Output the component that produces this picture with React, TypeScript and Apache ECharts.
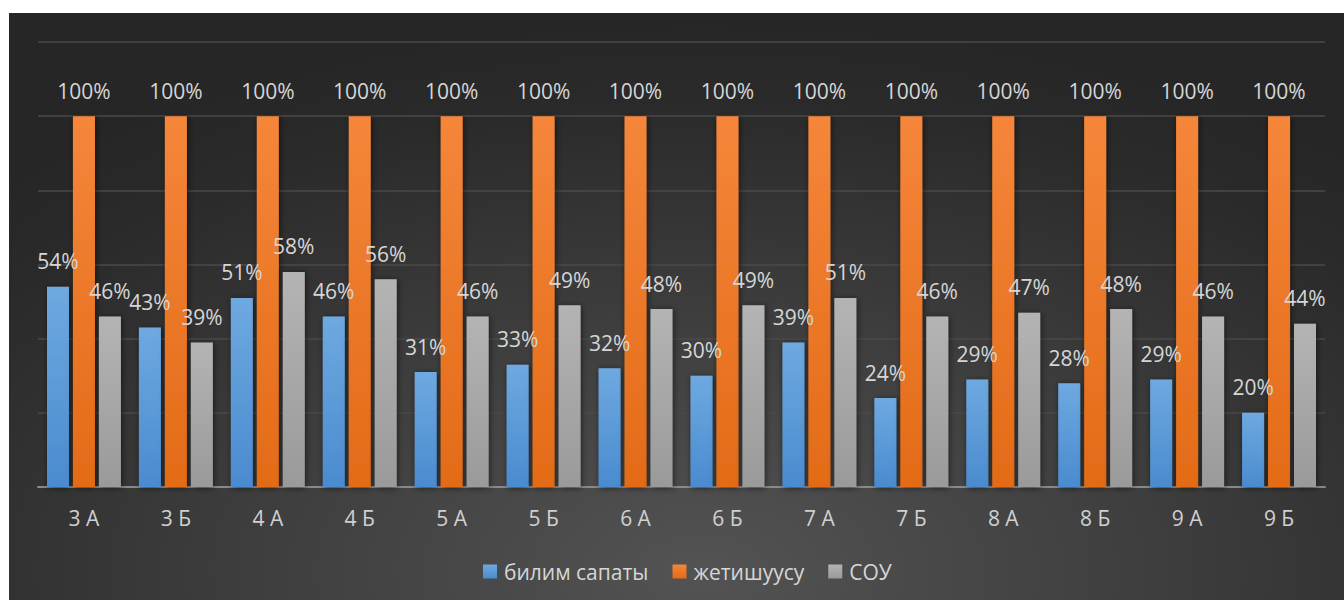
import React, { useEffect, useRef } from "react";
import * as echarts from "echarts";

const categories = ["3 А", "3 Б", "4 А", "4 Б", "5 А", "5 Б", "6 А", "6 Б", "7 А", "7 Б", "8 А", "8 Б", "9 А", "9 Б"];
const seriesNames = ["билим сапаты", "жетишуусу", "СОУ"];
const bilimSapaty = [54, 43, 51, 46, 31, 33, 32, 30, 39, 24, 29, 28, 29, 20];
const zhetishuusu = [100, 100, 100, 100, 100, 100, 100, 100, 100, 100, 100, 100, 100, 100];
const sou = [46, 39, 58, 56, 46, 49, 48, 49, 51, 46, 47, 48, 46, 44];

const FONT = "'Open Sans', 'Noto Sans', sans-serif";

function grad(top: string, bottom: string) {
  return new echarts.graphic.LinearGradient(0, 0, 0, 1, [
    { offset: 0, color: top },
    { offset: 1, color: bottom },
  ]);
}

export default function App() {
  const ref = useRef<HTMLDivElement>(null);
  useEffect(() => {
    if (!ref.current) return;
    const chart = echarts.init(ref.current, null, { renderer: "svg" });
    const label = {
      show: true,
      position: "top" as const,
      distance: 15,
      color: "#d6d6d6",
      fontSize: 21,
      fontFamily: FONT,
      formatter: (p: any) => p.value + "%",
    };
    const shadow = { shadowBlur: 6, shadowColor: "rgba(0,0,0,0.55)", shadowOffsetX: 1, shadowOffsetY: 1 };
    chart.setOption({
      animation: false,
      backgroundColor: "transparent",
      textStyle: { fontFamily: FONT },
      grid: { left: 29, right: 19, top: 29, bottom: 113, containLabel: false },
      legend: {
        bottom: 13,
        left: 469,
        itemWidth: 14,
        itemHeight: 14,
        itemGap: 24,
        icon: "rect",
        textStyle: { color: "#d6d6d6", fontSize: 21, fontFamily: FONT, padding: [0, 0, 0, 2] },
        data: seriesNames,
      },
      xAxis: {
        type: "category",
        data: categories,
        axisLine: { lineStyle: { color: "#8a8a8a", width: 2 } },
        axisTick: { show: false },
        axisLabel: { color: "#d0d0d0", fontSize: 21, margin: 20, fontFamily: FONT },
      },
      yAxis: {
        type: "value",
        min: 0,
        max: 120,
        interval: 20,
        axisLabel: { show: false },
        axisLine: { show: false },
        axisTick: { show: false },
        splitLine: { lineStyle: { color: "#4a4a4a", width: 1.5 } },
      },
      series: [
        {
          name: seriesNames[0],
          type: "bar",
          data: bilimSapaty,
          barWidth: 22,
          barGap: "18%",
          itemStyle: { color: grad("#6ea9e0", "#4a8bcf"), ...shadow },
          label,
        },
        {
          name: seriesNames[1],
          type: "bar",
          data: zhetishuusu,
          barWidth: 22,
          barGap: "18%",
          itemStyle: { color: grad("#f5863a", "#e36b17"), ...shadow },
          label,
        },
        {
          name: seriesNames[2],
          type: "bar",
          data: sou,
          barWidth: 22,
          barGap: "18%",
          itemStyle: { color: grad("#b4b4b4", "#9a9a9a"), ...shadow },
          label,
        },
      ],
    });
    return () => chart.dispose();
  }, []);
  return (
    <div
      ref={ref}
      style={{
        position: "absolute",
        left: 9,
        top: 13,
        width: 1335,
        height: 587,
        background: "radial-gradient(ellipse 75% 95% at 52% 95%, #535353 0%, #3e3e3e 45%, #2a2a2a 85%, #262626 100%)",
      }}
    />
  );
}
